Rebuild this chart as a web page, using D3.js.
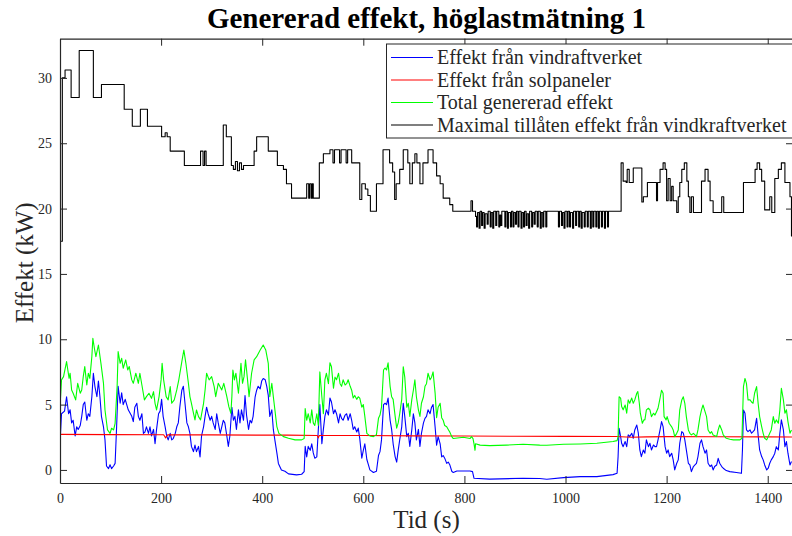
<!DOCTYPE html>
<html><head><meta charset="utf-8">
<script src="https://cdn.jsdelivr.net/npm/d3@7"></script>
<style>body{margin:0;background:#fff} svg{display:block}</style>
</head><body>
<svg id="chart" width="792" height="536"></svg>
<script>
const titleText = "Genererad effekt, höglastmätning 1";
const xLabel = "Tid (s)";
const yLabel = "Effekt (kW)";
const legendLabels = ["Effekt från vindraftverket", "Effekt från solpaneler", "Total genererad effekt", "Maximal tillåten effekt från vindkraftverket"];
const xTicks = [0, 200, 400, 600, 800, 1000, 1200, 1400];
const yTicks = [0, 5, 10, 15, 20, 25, 30];

// [time (s), power (kW)]
const windPower = [[0,2.0],[3,4.3],[9,4.5],[13,5.6],[17,4.3],[20,4.6],[23,3.6],[26,3.8],[30,2.6],[33,3.3],[36,3.1],[40,3.4],[43,4.1],[46,5.0],[49,5.2],[53,3.8],[56,4.3],[59,4.1],[63,5.6],[66,7.4],[69,6.4],[73,5.6],[76,6.8],[79,5.6],[82,4.1],[86,3.3],[89,2.3],[92,0.3],[96,0.1],[99,0.4],[102,0.1],[106,0.3],[109,0.5],[112,3.3],[115,6.4],[119,5.1],[122,5.9],[125,5.0],[129,5.4],[132,5.0],[135,4.6],[142,4.1],[145,3.7],[148,4.8],[152,5.1],[155,4.1],[158,3.8],[162,4.3],[165,2.8],[168,2.9],[171,3.3],[175,2.8],[178,3.3],[181,2.6],[185,3.1],[188,2.0],[191,3.1],[195,4.3],[198,4.5],[201,5.4],[204,4.1],[208,3.3],[211,2.6],[214,2.3],[218,2.8],[221,2.3],[224,2.4],[228,2.8],[231,3.3],[234,3.6],[237,4.8],[241,6.1],[244,6.4],[247,5.2],[251,3.6],[254,3.3],[257,2.8],[260,1.8],[264,1.4],[267,1.9],[270,1.4],[274,1.8],[277,1.0],[280,2.6],[284,3.3],[287,4.1],[290,4.8],[293,4.3],[297,3.8],[300,4.1],[303,3.6],[307,3.1],[310,4.3],[313,3.6],[317,2.8],[320,3.3],[323,3.8],[326,3.6],[330,2.6],[333,1.8],[336,2.6],[340,4.8],[343,3.8],[346,4.1],[349,3.1],[353,4.6],[356,3.6],[359,4.6],[363,3.8],[366,5.7],[369,4.2],[373,3.1],[376,3.8],[379,3.6],[382,4.1],[386,5.6],[389,6.1],[392,6.4],[396,6.2],[399,6.8],[402,7.0],[406,6.9],[409,6.4],[412,5.7],[415,4.1],[419,4.6],[422,3.1],[425,2.3],[429,1.3],[432,0.5],[438,0.0],[445,-0.1],[452,-0.3],[468,-0.38],[478,-0.33],[483,-0.13],[485,1.8],[488,1.0],[491,1.8],[495,1.5],[498,2.0],[501,1.3],[504,0.9],[508,1.0],[511,3.1],[514,5.0],[518,2.0],[521,3.1],[524,4.1],[527,4.6],[531,4.2],[534,5.5],[537,5.2],[541,4.3],[544,4.6],[547,4.3],[551,3.6],[554,4.3],[557,3.95],[560,3.8],[564,4.2],[567,4.3],[570,3.8],[574,4.3],[577,3.8],[580,3.1],[583,3.3],[587,2.9],[590,3.2],[593,2.4],[597,0.9],[600,1.5],[603,2.0],[607,0.8],[610,0.4],[613,0.0],[620,-0.2],[626,-0.1],[630,1.1],[633,1.4],[636,2.3],[640,5.0],[643,5.1],[646,5.0],[649,5.5],[653,3.8],[656,3.1],[659,2.0],[663,1.0],[666,0.6],[669,1.5],[672,2.3],[676,3.3],[679,5.1],[682,4.1],[686,2.55],[689,2.8],[692,1.8],[696,3.1],[699,4.3],[702,3.6],[705,2.3],[709,3.1],[712,1.8],[715,2.8],[719,3.6],[722,3.95],[725,4.1],[728,4.6],[732,4.3],[735,4.8],[738,5.0],[742,3.3],[745,1.9],[748,2.55],[752,2.0],[755,1.0],[758,1.1],[761,0.9],[765,0.5],[768,0.6],[771,0.4],[775,-0.1],[778,-0.2],[785,-0.08],[811,-0.08],[816,-0.13],[819,-0.64],[850,-0.7],[916,-0.64],[949,-0.66],[963,-0.71],[996,-0.59],[1029,-0.51],[1062,-0.51],[1094,-0.36],[1102,-0.26],[1104,1.02],[1106,3.19],[1109,2.55],[1111,2.04],[1114,1.78],[1118,2.17],[1121,1.78],[1124,2.68],[1127,2.55],[1131,2.81],[1134,2.42],[1137,3.06],[1141,3.44],[1144,2.81],[1147,1.53],[1150,1.02],[1154,1.53],[1157,1.28],[1160,2.3],[1164,1.78],[1167,2.04],[1170,1.53],[1174,1.91],[1177,1.78],[1180,1.78],[1183,2.3],[1187,3.06],[1190,3.7],[1193,3.32],[1197,1.78],[1200,1.28],[1203,1.53],[1206,1.02],[1210,1.28],[1213,0.77],[1216,0],[1220,0.51],[1223,0.77],[1226,2.04],[1230,2.93],[1233,2.81],[1236,2.3],[1239,1.53],[1243,0.51],[1246,0.38],[1249,-0.13],[1253,0.26],[1256,0.38],[1259,0.51],[1262,1.02],[1266,2.04],[1269,2.3],[1272,1.78],[1276,1.28],[1279,1.53],[1282,0.51],[1286,0.26],[1289,0.38],[1292,0],[1295,0.26],[1299,0.38],[1302,0.89],[1305,0.51],[1309,0.26],[1312,0.13],[1318,-0.05],[1325,-0.13],[1338,-0.2],[1348,-0.26],[1350,1.53],[1352,4.59],[1355,4.34],[1358,3.06],[1361,2.93],[1365,3.06],[1368,2.81],[1371,2.93],[1374,3.06],[1378,3.95],[1381,2.68],[1384,1.53],[1388,1.02],[1391,0.77],[1394,0.38],[1398,0],[1401,0.13],[1404,0.51],[1407,0.77],[1411,1.02],[1414,1.28],[1417,1.78],[1421,1.53],[1424,2.81],[1427,3.83],[1431,3.06],[1434,1.78],[1437,2.17],[1440,1.28],[1444,0.38],[1447,0.64]];

const solarPower = [[0,2.72],[100,2.7],[205,2.69],[209,2.45],[213,2.69],[300,2.68],[400,2.66],[450,2.66],[509,2.64],[511,2.45],[513,2.64],[600,2.63],[700,2.61],[800,2.6],[900,2.58],[1000,2.57],[1100,2.56],[1130,2.5],[1160,2.53],[1200,2.55],[1300,2.54],[1400,2.53],[1448,2.52]];

const totalPower = [[0,4.84],[3,6.89],[7,7.14],[13,8.29],[18,7.01],[20,7.4],[23,6.12],[26,5.87],[31,5.36],[35,6.63],[40,5.87],[43,6.12],[46,7.14],[49,7.91],[53,6.5],[56,7.4],[59,7.01],[63,8.67],[65,10.07],[68,9.31],[71,8.67],[76,9.56],[81,8.16],[86,6.63],[89,4.59],[94,3.06],[99,2.8],[102,3.19],[106,3.06],[109,3.57],[113,6.38],[115,9.05],[119,8.16],[122,8.54],[125,7.78],[130,8.42],[134,7.65],[137,7.91],[142,6.89],[145,6.63],[150,7.4],[155,6.63],[158,7.4],[162,6.5],[167,5.36],[171,5.61],[176,5.87],[181,5.48],[185,5.99],[188,5.1],[191,4.59],[196,5.61],[200,6.89],[202,8.16],[205,6.89],[210,5.61],[214,5.36],[218,6.38],[221,5.1],[226,5.36],[231,6.12],[235,6.89],[241,8.29],[245,9.18],[249,8.16],[254,6.63],[257,5.61],[260,5.1],[264,4.34],[267,3.83],[270,4.59],[274,4.08],[278,3.83],[284,5.1],[287,6.12],[290,7.4],[295,6.89],[300,7.14],[305,6.38],[308,5.61],[313,6.63],[320,6.12],[324,6.63],[330,5.61],[334,4.84],[338,4.34],[340,5.61],[342,7.65],[345,6.89],[348,7.4],[353,5.87],[358,8.16],[361,6.63],[364,7.14],[367,8.42],[371,6.89],[374,5.61],[379,7.4],[384,8.42],[389,8.67],[396,9.18],[402,9.56],[407,9.18],[412,8.16],[415,5.61],[419,6.63],[422,5.61],[429,3.32],[433,2.8],[442,2.55],[452,2.42],[465,2.3],[478,2.3],[483,2.4],[485,4.7],[488,3.8],[491,4.3],[495,3.6],[498,4.6],[501,3.6],[504,3.4],[508,4.3],[511,3.4],[514,7.5],[518,5.6],[521,4.3],[524,6.9],[527,7.4],[531,6.6],[534,8.2],[537,7.9],[541,6.25],[544,7.1],[547,6.9],[551,7.4],[554,6.6],[557,6.4],[560,6.9],[564,6.5],[567,6.6],[570,6.9],[574,6.4],[577,6.1],[580,5.5],[583,5.7],[587,5.4],[590,5.6],[593,5.5],[597,4.8],[600,5.0],[603,4.1],[607,2.8],[613,2.6],[620,2.55],[626,2.7],[630,3.95],[633,4.2],[636,4.8],[640,7.65],[643,7.8],[646,7.65],[649,8.2],[653,6.4],[656,5.6],[659,5.4],[663,4.1],[666,3.2],[669,3.6],[672,4.3],[676,5.4],[679,7.9],[682,7.1],[686,4.8],[689,5.1],[692,4.1],[696,5.4],[699,6.1],[702,6.9],[705,5.6],[709,4.6],[712,4.1],[715,5.1],[719,5.6],[722,6.4],[725,6.6],[728,7.4],[732,6.9],[735,7.1],[738,7.5],[742,5.9],[745,4.0],[748,4.8],[752,5.1],[755,4.0],[758,3.8],[761,3.4],[765,3.3],[768,3.1],[771,2.9],[775,2.55],[778,2.4],[798,2.5],[811,2.4],[814,2.55],[817,2.4],[819,2.0],[821,1.5],[822,2.0],[831,1.9],[850,1.86],[883,1.9],[916,1.96],[949,1.9],[963,1.89],[996,1.96],[1029,1.99],[1062,2.04],[1094,2.17],[1102,2.24],[1104,2.55],[1106,5.6],[1109,5.5],[1111,4.85],[1114,4.6],[1118,4.97],[1121,4.34],[1124,5.36],[1127,5.1],[1131,5.5],[1134,5.1],[1137,5.36],[1141,5.87],[1143,6.0],[1146,5.1],[1148,4.34],[1152,3.57],[1155,3.83],[1157,3.83],[1160,4.6],[1164,4.72],[1167,4.6],[1170,4.08],[1174,4.34],[1177,4.2],[1180,4.46],[1183,4.72],[1187,5.5],[1190,6.1],[1193,5.87],[1195,4.08],[1199,3.83],[1201,4.08],[1205,3.57],[1210,3.3],[1213,3.06],[1216,2.55],[1220,2.8],[1223,3.06],[1226,4.6],[1230,5.36],[1233,5.6],[1236,5.1],[1239,4.08],[1243,3.06],[1246,2.8],[1249,2.68],[1253,2.8],[1256,2.68],[1259,2.55],[1262,3.06],[1266,4.08],[1269,4.6],[1272,4.97],[1276,4.46],[1279,4.08],[1282,3.06],[1286,2.8],[1289,2.93],[1292,2.68],[1299,2.55],[1302,3.06],[1305,3.44],[1309,3.06],[1312,2.68],[1318,2.42],[1325,2.35],[1332,2.3],[1345,2.3],[1349,2.42],[1352,6.38],[1355,7.0],[1358,6.6],[1361,5.36],[1365,5.36],[1368,5.2],[1371,5.1],[1374,5.87],[1378,6.38],[1381,5.1],[1384,4.08],[1388,3.32],[1391,2.8],[1394,2.42],[1398,2.3],[1401,2.55],[1404,2.8],[1407,3.06],[1411,4.08],[1414,3.57],[1417,3.83],[1421,3.57],[1424,4.6],[1427,6.25],[1431,5.36],[1434,4.34],[1437,4.6],[1440,3.7],[1444,2.81],[1447,3.06]];

const maxAllowed = [[0,17.5],[4.6,30.0],[10,30.6],[22,28.5],[38,32.1],[66,28.5],[82,29.5],[127,27.6],[143,26.3],[159,27.6],[173,26.3],[201,25.5],[208,25.8],[212,25.5],[218,24.4],[246,23.3],[278,24.4],[283,23.3],[286,24.4],[289,23.3],[323,26.4],[329,25.5],[335,25.5],[339,23.3],[343,23.0],[347,23.6],[351,22.9],[355,23.5],[359,23.0],[363,23.3],[384,24.4],[389,25.5],[412,24.4],[430,23.3],[442,23.0],[448,21.9],[458,20.8],[488,21.9],[492,20.8],[494,21.9],[497,20.8],[499,21.9],[501,20.8],[513,23.5],[521,24.2],[534,24.5],[540,23.5],[543,24.5],[553,23.5],[556,24.5],[566,23.5],[569,24.5],[577,23.5],[593,20.7],[597,21.9],[604,21.5],[609,21.0],[614,19.8],[626,21.9],[635,21.9],[639,24.5],[652,23.5],[658,22.8],[662,20.7],[665,21.9],[672,23.0],[679,24.5],[688,23.5],[692,21.9],[697,23.5],[702,24.2],[706,23.5],[712,21.9],[718,23.5],[728,24.5],[738,23.5],[745,22.5],[752,21.9],[758,20.8],[771,20.3],[777,19.8],[813,20.6],[816,19.8],[822,19.4],[824,18.6],[826,19.7],[829,18.5],[831,19.8],[834,18.7],[836,19.7],[839,18.5],[841,19.6],[845,18.8],[847,19.8],[851,18.6],[853,19.7],[856,18.5],[858,19.8],[862,18.7],[864,19.8],[868,18.6],[870,19.5],[872,18.7],[874,19.8],[880,18.6],[882,19.8],[885,18.5],[887,19.7],[891,18.6],[893,19.8],[896,18.6],[898,19.7],[901,18.8],[903,19.8],[906,18.6],[908,19.8],[912,18.5],[914,19.7],[917,18.6],[919,19.8],[922,18.7],[924,19.6],[927,18.5],[929,19.8],[933,18.6],[935,19.7],[938,18.8],[940,19.8],[944,18.6],[946,19.8],[950,18.5],[952,19.7],[955,18.6],[957,19.8],[961,18.6],[963,19.8],[986,18.6],[988,19.8],[992,18.7],[994,19.7],[997,18.5],[999,19.8],[1003,18.6],[1005,19.8],[1008,18.6],[1010,19.7],[1014,18.5],[1016,19.8],[1020,18.7],[1022,19.8],[1026,18.6],[1028,19.8],[1031,18.5],[1033,19.7],[1037,18.6],[1039,19.8],[1043,18.6],[1045,19.8],[1049,18.5],[1051,19.8],[1054,18.6],[1056,19.8],[1060,18.6],[1062,19.8],[1065,18.5],[1067,19.8],[1071,18.6],[1073,19.8],[1077,18.5],[1079,19.8],[1083,18.6],[1085,19.8],[1110,23.5],[1114,22.1],[1120,22.0],[1122,23.0],[1126,22.0],[1131,22.0],[1134,23.1],[1147,23.1],[1151,20.5],[1154,20.9],[1162,22.0],[1180,20.6],[1182,22.0],[1187,23.0],[1193,23.5],[1197,23.0],[1200,20.6],[1203,22.3],[1207,20.6],[1210,21.7],[1213,20.6],[1220,19.7],[1223,20.9],[1226,22.0],[1230,23.0],[1235,23.5],[1240,22.1],[1243,20.9],[1246,19.7],[1249,20.9],[1253,19.7],[1269,22.1],[1276,23.0],[1282,22.1],[1286,20.6],[1292,19.7],[1309,20.9],[1313,19.7],[1352,22.0],[1375,23.0],[1379,23.5],[1384,23.0],[1388,22.1],[1394,19.9],[1404,20.9],[1408,19.7],[1414,22.3],[1421,23.0],[1427,23.5],[1434,22.0],[1444,20.9],[1447,17.9],[1449,17.9]];

const seriesColors = ["#0000ff", "#ff0000", "#00ff00", "#000000"];

const svg = d3.select("#chart");
const FONT = "'Liberation Serif','Times New Roman',serif";
const AX = "#262626";
const pL = 60, pR = 793, pT = 38.7, pB = 483;

const x = d3.scaleLinear().domain([0, 1450]).range([pL, pR]);
const y = d3.scaleLinear().domain([-1, 33]).range([pB, pT]);

svg.append("defs").append("clipPath").attr("id", "plotclip")
  .append("rect").attr("x", pL).attr("y", pT).attr("width", pR - pL).attr("height", pB - pT);

const plot = svg.append("g").attr("clip-path", "url(#plotclip)");
const lineLin = d3.line().x(d => x(d[0])).y(d => y(d[1]));
const lineStep = d3.line().x(d => x(d[0])).y(d => y(d[1])).curve(d3.curveStepAfter);

const series = [windPower, solarPower, totalPower, maxAllowed];
series.forEach((s, i) => {
  plot.append("path").datum(s)
    .attr("d", i === 3 ? lineStep : lineLin)
    .attr("fill", "none").attr("stroke", seriesColors[i])
    .attr("stroke-width", 1.1).attr("stroke-linejoin", "round");
});

function styleAxis(g) {
  g.selectAll("path").attr("stroke", AX).attr("stroke-width", 1.2);
  g.selectAll("line").attr("stroke", AX).attr("stroke-width", 1);
  g.selectAll("text").attr("fill", AX).style("font-family", FONT).style("font-size", "14px");
}
svg.append("g").attr("transform", `translate(0,${pB})`)
  .call(d3.axisBottom(x).tickValues(xTicks).tickSize(-7).tickSizeOuter(0).tickPadding(10).tickFormat(d3.format("d")))
  .call(styleAxis);
svg.append("g").attr("transform", `translate(0,${pT})`)
  .call(d3.axisTop(x).tickValues(xTicks).tickSize(-7).tickSizeOuter(0).tickFormat(""))
  .call(styleAxis);
svg.append("g").attr("transform", `translate(${pL},0)`)
  .call(d3.axisLeft(y).tickValues(yTicks).tickSize(-7).tickSizeOuter(0).tickPadding(8).tickFormat(d3.format("d")))
  .call(styleAxis);
svg.append("g").attr("transform", `translate(${pR},0)`)
  .call(d3.axisRight(y).tickValues(yTicks).tickSize(-7).tickSizeOuter(0).tickFormat(""))
  .call(styleAxis);

svg.append("text").attr("x", (pL + pR) / 2).attr("y", 28)
  .attr("text-anchor", "middle").style("font-family", FONT).style("font-size", "29px")
  .style("font-weight", "bold").attr("fill", "#000").text(titleText);
svg.append("text").attr("x", (pL + pR) / 2).attr("y", 528)
  .attr("text-anchor", "middle").style("font-family", FONT).style("font-size", "25px")
  .attr("fill", AX).text(xLabel);
svg.append("text").attr("transform", `translate(33,${(pT + pB) / 2 + 2}) rotate(-90)`)
  .attr("text-anchor", "middle").style("font-family", FONT).style("font-size", "25px")
  .attr("fill", AX).text(yLabel);

const lg = svg.append("g");
lg.append("rect").attr("x", 386.5).attr("y", 44).attr("width", 420).attr("height", 94)
  .attr("fill", "#fff").attr("stroke", AX).attr("stroke-width", 1);
const rowY = [57.5, 80, 102.5, 125];
legendLabels.forEach((lab, i) => {
  lg.append("line").attr("x1", 391).attr("x2", 433).attr("y1", rowY[i]).attr("y2", rowY[i])
    .attr("stroke", seriesColors[i]).attr("stroke-width", 1.1);
  lg.append("text").attr("x", 437).attr("y", rowY[i] + 6.5)
    .style("font-family", FONT).style("font-size", "20px").attr("fill", AX).text(lab);
});
</script>
</body></html>
